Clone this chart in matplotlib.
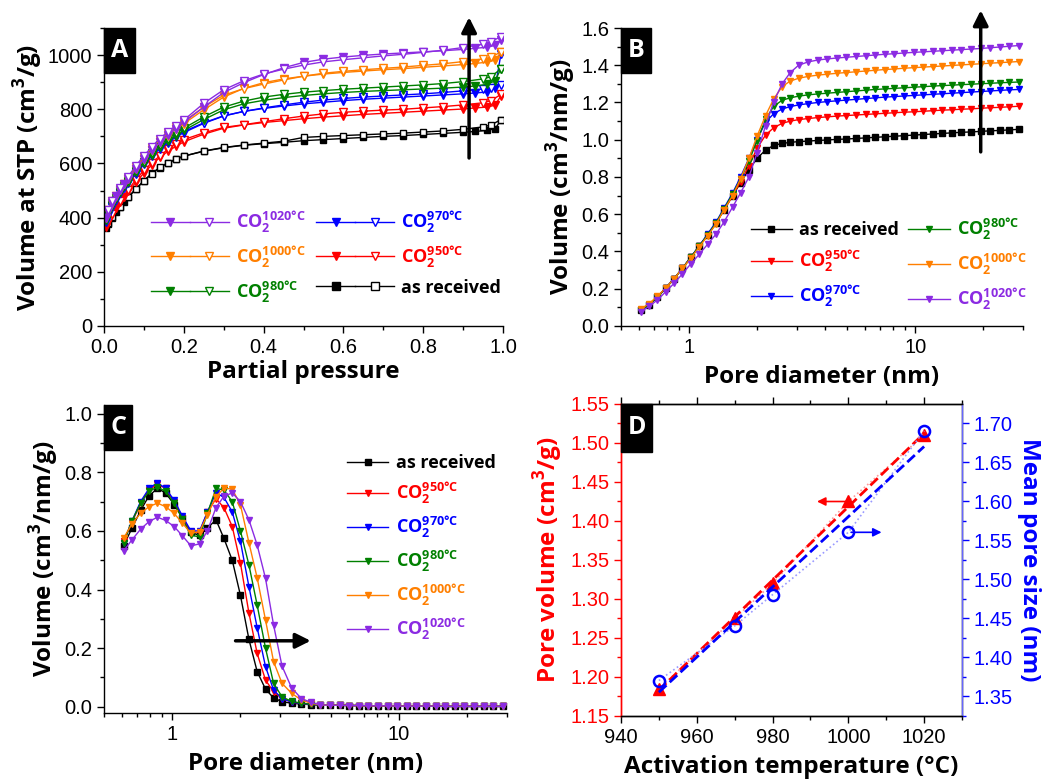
import numpy as np
import matplotlib
matplotlib.use('Agg')
import matplotlib.pyplot as plt
from matplotlib.lines import Line2D
from matplotlib.patches import Rectangle
from matplotlib.legend_handler import HandlerTuple
from matplotlib.ticker import MultipleLocator

plt.rcParams['font.family'] = ['Liberation Sans', 'DejaVu Sans']
plt.rcParams['mathtext.fontset'] = 'custom'
plt.rcParams['mathtext.rm'] = 'Open Sans'
plt.rcParams['mathtext.bf'] = 'Open Sans:bold'
plt.rcParams['axes.linewidth'] = 1.0

# colours for the samples
colors = {'ar': 'black', '950': '#FF0000', '970': '#0000FF', '980': '#008000',
          '1000': '#FF7F00', '1020': '#8B2BE2'}
names = {'ar': 'as received', '950': 'CO$_\\mathbf{2}^\\mathbf{950°C}$',
         '970': 'CO$_\\mathbf{2}^\\mathbf{970°C}$', '980': 'CO$_\\mathbf{2}^\\mathbf{980°C}$',
         '1000': 'CO$_\\mathbf{2}^\\mathbf{1000°C}$', '1020': 'CO$_\\mathbf{2}^\\mathbf{1020°C}$'}

# ---- panel A: N2 isotherms (adsorption / desorption)
p_ads = [0.005, 0.01, 0.02, 0.03, 0.04, 0.05, 0.06, 0.08, 0.1, 0.12, 0.14, 0.16, 0.18, 0.2, 0.25, 0.3,
         0.35, 0.4, 0.45, 0.5, 0.55, 0.6, 0.65, 0.7, 0.75, 0.8, 0.85, 0.9, 0.93, 0.96, 0.98, 0.995]
p_des = [0.995, 0.97, 0.95, 0.9, 0.85, 0.8, 0.75, 0.7, 0.65, 0.6, 0.55, 0.5, 0.45, 0.4, 0.35, 0.3,
         0.25, 0.2, 0.18, 0.16, 0.14, 0.12, 0.1, 0.08, 0.06, 0.04, 0.02, 0.01]

ads_ar = [360, 378, 400, 420, 440, 458, 475, 505, 537, 563, 585, 603, 616, 627, 645, 658,
          667, 673, 678, 684, 688, 692, 696, 700, 703, 707, 711, 715, 718, 722, 728, 760]
ads_950 = [365, 385, 412, 435, 458, 478, 497, 530, 565, 595, 622, 645, 663, 680, 708, 730,
           742, 751, 758, 765, 771, 776, 781, 785, 789, 793, 797, 801, 805, 808, 815, 850]
ads_970 = [385, 408, 440, 465, 490, 510, 528, 562, 597, 627, 654, 677, 697, 714, 748, 775,
           792, 803, 812, 820, 826, 832, 837, 841, 845, 849, 853, 857, 860, 864, 878, 1005]
ads_980 = [392, 416, 448, 472, 495, 515, 533, 567, 602, 633, 660, 683, 703, 722, 762, 798,
           820, 833, 843, 851, 857, 862, 866, 869, 872, 875, 878, 882, 886, 892, 905, 950]
ads_1000 = [400, 425, 455, 480, 503, 523, 542, 578, 615, 648, 678, 703, 726, 747, 798, 845,
            877, 898, 912, 922, 930, 936, 941, 946, 950, 955, 960, 965, 969, 974, 982, 1010]
ads_1020 = [400, 425, 455, 480, 503, 523, 542, 578, 615, 648, 678, 705, 728, 752, 808, 862,
            898, 928, 953, 973, 985, 993, 999, 1004, 1008, 1012, 1016, 1021, 1025, 1029, 1036, 1055]

des_ar = [762, 742, 735, 726, 720, 716, 712, 709, 706, 703, 700, 696, 682, 675, 668, 659,
          646, 627, 615, 601, 586, 562, 536, 505, 476, 441, 402, 380]
des_950 = [855, 832, 824, 816, 810, 805, 800, 797, 793, 789, 783, 775, 765, 754, 743, 733,
           713, 688, 672, 652, 628, 603, 575, 540, 502, 462, 415, 388]
des_970 = [890, 880, 875, 868, 862, 857, 853, 849, 845, 840, 834, 826, 816, 805, 792, 776,
           750, 718, 702, 682, 659, 632, 600, 566, 530, 492, 443, 410]
des_980 = [950, 920, 912, 902, 895, 890, 886, 882, 878, 874, 869, 863, 855, 845, 830, 808,
           772, 730, 712, 692, 668, 640, 607, 572, 535, 497, 450, 420]
des_1000 = [1012, 992, 986, 976, 968, 962, 956, 951, 946, 940, 933, 922, 908, 893, 876, 852,
            808, 755, 735, 713, 688, 658, 624, 588, 548, 506, 460, 428]
des_1020 = [1068, 1050, 1040, 1028, 1018, 1010, 1003, 997, 990, 983, 975, 963, 948, 930, 905, 872,
            822, 760, 740, 717, 692, 662, 628, 592, 550, 508, 462, 430]

# ---- panels B, C: pore diameter grid (nm)
diam = [0.61, 0.665, 0.725, 0.79, 0.86, 0.935, 1.02, 1.11, 1.21, 1.32, 1.43, 1.56, 1.69, 1.84, 2.0,
        2.18, 2.37, 2.58, 2.8, 3.05, 3.36, 3.71, 4.09, 4.51, 4.97, 5.48, 6.04, 6.66, 7.34, 8.1,
        8.93, 9.84, 10.85, 11.96, 13.19, 14.54, 16.03, 17.67, 19.48, 21.48, 23.68, 26.1, 28.8]

cum_ar = [0.085, 0.115, 0.155, 0.205, 0.255, 0.31, 0.37, 0.43, 0.49, 0.555, 0.625, 0.70, 0.77, 0.84, 0.90,
          0.945, 0.97, 0.98, 0.986, 0.99, 0.993, 0.996, 0.999, 1.002, 1.004, 1.007, 1.01, 1.013, 1.016, 1.019,
          1.022, 1.025, 1.028, 1.031, 1.034, 1.037, 1.04, 1.042, 1.045, 1.048, 1.05, 1.053, 1.056]
cum_950 = [0.085, 0.115, 0.155, 0.205, 0.255, 0.31, 0.37, 0.43, 0.49, 0.555, 0.625, 0.70, 0.775, 0.86, 0.955,
           1.025, 1.065, 1.088, 1.1, 1.108, 1.114, 1.119, 1.123, 1.127, 1.13, 1.133, 1.136, 1.139, 1.142, 1.145,
           1.148, 1.15, 1.153, 1.156, 1.159, 1.161, 1.164, 1.166, 1.169, 1.172, 1.174, 1.177, 1.18]
cum_970 = [0.085, 0.115, 0.155, 0.205, 0.255, 0.31, 0.37, 0.43, 0.495, 0.56, 0.635, 0.715, 0.80, 0.90, 1.0,
           1.095, 1.14, 1.165, 1.178, 1.187, 1.194, 1.2, 1.205, 1.209, 1.213, 1.217, 1.221, 1.225, 1.229, 1.232,
           1.235, 1.238, 1.241, 1.244, 1.247, 1.25, 1.253, 1.256, 1.259, 1.262, 1.265, 1.268, 1.27]
cum_980 = [0.085, 0.115, 0.155, 0.205, 0.255, 0.31, 0.37, 0.43, 0.49, 0.555, 0.63, 0.71, 0.79, 0.885, 0.995,
           1.11, 1.18, 1.212, 1.225, 1.234, 1.241, 1.246, 1.25, 1.254, 1.258, 1.262, 1.266, 1.27, 1.273, 1.276,
           1.279, 1.282, 1.285, 1.288, 1.291, 1.293, 1.296, 1.298, 1.301, 1.303, 1.306, 1.308, 1.31]
cum_1000 = [0.09, 0.12, 0.16, 0.205, 0.255, 0.31, 0.365, 0.425, 0.485, 0.55, 0.625, 0.70, 0.79, 0.90, 1.02,
            1.13, 1.22, 1.285, 1.315, 1.33, 1.34, 1.347, 1.352, 1.357, 1.361, 1.365, 1.369, 1.373, 1.377, 1.38,
            1.384, 1.387, 1.39, 1.393, 1.396, 1.399, 1.402, 1.405, 1.408, 1.411, 1.414, 1.417, 1.42]
cum_1020 = [0.075, 0.105, 0.14, 0.185, 0.23, 0.28, 0.335, 0.385, 0.44, 0.495, 0.56, 0.64, 0.715, 0.80, 0.93,
            1.075, 1.205, 1.30, 1.36, 1.40, 1.418, 1.428, 1.434, 1.439, 1.443, 1.447, 1.451, 1.455, 1.459, 1.462,
            1.466, 1.469, 1.472, 1.475, 1.478, 1.481, 1.484, 1.487, 1.49, 1.494, 1.498, 1.502, 1.506]

# differential PSD, first 23 points per sample, then the common near-zero tail (4.5 - 28.8 nm)
psd_ar = [0.55, 0.61, 0.67, 0.72, 0.745, 0.73, 0.69, 0.645, 0.595, 0.585, 0.61, 0.638, 0.575, 0.50, 0.38,
          0.23, 0.12, 0.06, 0.03, 0.017, 0.012, 0.009, 0.007]
psd_950 = [0.565, 0.63, 0.695, 0.74, 0.76, 0.745, 0.70, 0.645, 0.595, 0.595, 0.665, 0.71, 0.68, 0.615, 0.49,
           0.32, 0.182, 0.091, 0.051, 0.028, 0.016, 0.011, 0.008]
psd_970 = [0.56, 0.635, 0.70, 0.745, 0.765, 0.745, 0.705, 0.65, 0.60, 0.60, 0.665, 0.73, 0.715, 0.665, 0.564,
           0.41, 0.27, 0.137, 0.057, 0.028, 0.016, 0.011, 0.008]
psd_980 = [0.56, 0.635, 0.695, 0.735, 0.75, 0.735, 0.695, 0.64, 0.585, 0.58, 0.66, 0.745, 0.74, 0.70, 0.60,
           0.484, 0.347, 0.20, 0.08, 0.034, 0.018, 0.012, 0.008]
psd_1000 = [0.575, 0.625, 0.66, 0.683, 0.695, 0.683, 0.66, 0.626, 0.592, 0.598, 0.655, 0.717, 0.746, 0.743, 0.689,
            0.56, 0.44, 0.296, 0.154, 0.08, 0.046, 0.023, 0.012]
psd_1020 = [0.532, 0.57, 0.606, 0.632, 0.647, 0.636, 0.615, 0.583, 0.549, 0.556, 0.60, 0.68, 0.718, 0.73, 0.70,
            0.638, 0.552, 0.438, 0.279, 0.139, 0.065, 0.028, 0.015]
psd_tail = [0.006, 0.005, 0.005, 0.004, 0.004, 0.003, 0.003, 0.003, 0.002, 0.002,
            0.002, 0.002, 0.002, 0.001, 0.001, 0.001, 0.001, 0.001, 0.001, 0.001]

# ---- panel D
temps = [950, 970, 980, 1000, 1020]
pore_vol = [1.185, 1.275, 1.32, 1.425, 1.51]
mean_size = [1.37, 1.44, 1.48, 1.56, 1.69]

keys = ['ar', '950', '970', '980', '1000', '1020']
ads = dict(zip(keys, [ads_ar, ads_950, ads_970, ads_980, ads_1000, ads_1020]))
des = dict(zip(keys, [des_ar, des_950, des_970, des_980, des_1000, des_1020]))
cum = dict(zip(keys, [cum_ar, cum_950, cum_970, cum_980, cum_1000, cum_1020]))
psd = dict(zip(keys, [psd_ar, psd_950, psd_970, psd_980, psd_1000, psd_1020]))

W, H = 1051, 782
fig = plt.figure(figsize=(W / 100, H / 100), dpi=100)


def px_axes(l, t, r, b):
    return fig.add_axes([l / W, 1 - b / H, (r - l) / W, (b - t) / H])


def tag(ax, s, w=30, h=45):
    pos = ax.get_position()
    fig.patches.append(Rectangle((pos.x0, pos.y1 - h / H), w / W, h / H, transform=fig.transFigure,
                                 fc='black', ec='black', zorder=5))
    fig.text(pos.x0 + w / 2 / W, pos.y1 - h / 2 / H, s, color='white', fontsize=18, fontweight='bold',
             family='Open Sans', ha='center', va='center', zorder=6)


lab = dict(family=['Open Sans', 'DejaVu Sans'], fontweight='bold', fontsize=17.5)
legprop = dict(family='Open Sans', weight='bold', size=13)


def style(ax):
    ax.tick_params(which='major', direction='out', length=5, width=1, labelsize=14.5)
    ax.tick_params(which='minor', direction='out', length=3, width=1)


def marker_of(k):
    return 's' if k == 'ar' else 'v'


# ================= A
axA = px_axes(104, 28, 503, 326)
for k in keys:
    m = marker_of(k)
    ms = 4.5 if k == 'ar' else 5.5
    axA.plot(p_ads, ads[k], marker=m, color=colors[k], ms=ms, lw=1)
    axA.plot(p_des, des[k], marker=m, color=colors[k], mfc='white', ms=ms, lw=1)
axA.set_xlim(0, 1.0)
axA.set_ylim(0, 1100)
axA.xaxis.set_major_locator(MultipleLocator(0.2))
axA.xaxis.set_minor_locator(MultipleLocator(0.1))
axA.yaxis.set_major_locator(MultipleLocator(200))
axA.yaxis.set_minor_locator(MultipleLocator(100))
axA.set_yticks([0, 200, 400, 600, 800, 1000])
axA.spines['top'].set_visible(False)
axA.spines['right'].set_visible(False)
style(axA)
axA.set_xlabel('Partial pressure', labelpad=2, **lab)
axA.set_ylabel('Volume at STP (cm$^\\mathbf{3}$/g)', labelpad=2, **lab)
order_a = ['1020', '1000', '980', '970', '950', 'ar']
handles_a = [(Line2D([], [], color=colors[k], marker=marker_of(k), ms=6, lw=1),
              Line2D([], [], color=colors[k], marker=marker_of(k), mfc='white', ms=6, lw=1)) for k in order_a]
legA = axA.legend(handles_a, [names[k] for k in order_a], handler_map={tuple: HandlerTuple(ndivide=None, pad=0)},
                  ncol=2, loc='center left', bbox_to_anchor=(0.095, 0.232), frameon=False, borderpad=0,
                  handlelength=4.3, columnspacing=0.6, labelspacing=0.5, handletextpad=0.4, prop=legprop)
for t, k in zip(legA.get_texts(), order_a):
    t.set_color(colors[k])
axA.annotate('', xy=(0.915, 1150), xytext=(0.915, 610), annotation_clip=False,
             arrowprops=dict(arrowstyle='-|>,head_width=0.45,head_length=0.9', color='black', lw=2.5))
tag(axA, 'A', 31, 45)

# ================= B
axB = px_axes(621, 28, 1023, 326)
for k in keys:
    axB.plot(diam, cum[k], marker=marker_of(k), color=colors[k], ms=4.5 if k == 'ar' else 5, lw=1)
axB.set_xscale('log')
axB.set_xlim(0.5, 30)
axB.set_ylim(0, 1.6)
axB.yaxis.set_major_locator(MultipleLocator(0.2))
axB.yaxis.set_minor_locator(MultipleLocator(0.1))
axB.set_xticks([1, 10])
axB.set_xticklabels(['1', '10'])
axB.spines['top'].set_visible(False)
axB.spines['right'].set_visible(False)
style(axB)
axB.set_xlabel('Pore diameter (nm)', labelpad=6, **lab)
axB.set_ylabel('Volume (cm$^\\mathbf{3}$/nm/g)', labelpad=2, **lab)
order_b = ['ar', '950', '970', '980', '1000', '1020']
handles_b = [Line2D([], [], color=colors[k], marker=marker_of(k), ms=5, lw=1) for k in order_b]
legB = axB.legend(handles_b, [names[k] for k in order_b], ncol=2, loc='center left',
                  bbox_to_anchor=(0.30, 0.207), frameon=False, borderpad=0, numpoints=1,
                  handlelength=2.3, columnspacing=0.5, labelspacing=0.5, handletextpad=0.4, prop=legprop)
for t, k in zip(legB.get_texts(), order_b):
    t.set_color(colors[k])
axB.annotate('', xy=(19.5, 1.71), xytext=(19.5, 0.92), annotation_clip=False,
             arrowprops=dict(arrowstyle='-|>,head_width=0.45,head_length=0.9', color='black', lw=2.5))
tag(axB, 'B', 30, 45)

# ================= C
axC = px_axes(104, 405, 507, 713)
for k in keys:
    axC.plot(diam, psd[k] + psd_tail, marker=marker_of(k), color=colors[k], ms=4.5 if k == 'ar' else 5, lw=1)
axC.set_xscale('log')
axC.set_xlim(0.5, 30)
axC.set_ylim(-0.0215, 1.03)
axC.set_yticks([0.0, 0.2, 0.4, 0.6, 0.8, 1.0])
axC.yaxis.set_minor_locator(MultipleLocator(0.1))
axC.set_xticks([1, 10])
axC.set_xticklabels(['1', '10'])
axC.spines['top'].set_visible(False)
axC.spines['right'].set_visible(False)
style(axC)
axC.set_xlabel('Pore diameter (nm)', labelpad=6, **lab)
axC.set_ylabel('Volume (cm$^\\mathbf{3}$/nm/g)', labelpad=2, **lab)
handles_c = [Line2D([], [], color=colors[k], marker=marker_of(k), ms=5, lw=1) for k in order_b]
legC = axC.legend(handles_c, [names[k] for k in order_b], ncol=1, loc='center left',
                  bbox_to_anchor=(0.58, 0.535), frameon=False, borderpad=0, numpoints=1,
                  handlelength=2.3, labelspacing=0.45, handletextpad=0.4, prop=legprop)
for t, k in zip(legC.get_texts(), order_b):
    t.set_color(colors[k])
axC.annotate('', xy=(4.2, 0.225), xytext=(1.85, 0.225),
             arrowprops=dict(arrowstyle='-|>,head_width=0.45,head_length=0.9', color='black', lw=2.5))
tag(axC, 'C', 28, 45)

# ================= D
axD = px_axes(621, 404, 962, 716)
axR = axD.twinx()
red, blue = '#FF0000', '#0000FF'
fit_v = np.polyfit(temps, pore_vol, 1)
fit_s = np.polyfit(temps, mean_size, 1)
tfit = np.array([temps[0], temps[-1]])
axD.plot(temps, pore_vol, ':', color='#FF9999', lw=1.2)
axD.plot(tfit, np.polyval(fit_v, tfit), '--', color=red, lw=2)
axD.plot(temps, pore_vol, '^', color=red, ms=9, ls='none')
axR.plot(temps, mean_size, ':', color='#9999FF', lw=1.2)
axR.plot(tfit, np.polyval(fit_s, tfit), '--', color=blue, lw=2)
axR.plot(temps, mean_size, 'o', color=blue, mfc='none', mew=1.8, ms=8, ls='none')
axD.set_xlim(940, 1030)
axD.set_ylim(1.15, 1.55)
axR.set_ylim(1.3245, 1.7245)
axD.xaxis.set_major_locator(MultipleLocator(20))
axD.xaxis.set_minor_locator(MultipleLocator(10))
axD.yaxis.set_major_locator(MultipleLocator(0.05))
axD.yaxis.set_minor_locator(MultipleLocator(0.025))
axR.yaxis.set_major_locator(MultipleLocator(0.05))
axR.yaxis.set_minor_locator(MultipleLocator(0.025))
axD.set_xticks([940, 960, 980, 1000, 1020])
style(axD)
style(axR)
axD.tick_params(axis='x', which='both', top=True, labeltop=False)
axD.tick_params(axis='y', which='both', colors=red)
axR.tick_params(axis='y', which='both', colors=blue)
axD.spines['left'].set_color(red)
axR.spines['left'].set_color(red)
axR.spines['right'].set_color('#6666FF')
axD.yaxis.set_major_formatter(plt.FormatStrFormatter('%.2f'))
axR.yaxis.set_major_formatter(plt.FormatStrFormatter('%.2f'))
axD.set_xlabel('Activation temperature (°C)', labelpad=6, **lab)
axD.set_ylabel('Pore volume (cm$^\\mathbf{3}$/g)', color=red, labelpad=4, **lab)
axR.set_ylabel('Mean pore size (nm)', color=blue, rotation=270, labelpad=20, **lab)
axD.annotate('', xy=(991, 1.425), xytext=(1000, 1.425),
             arrowprops=dict(arrowstyle='-|>,head_width=0.25,head_length=0.5', color=red, lw=1.2))
axR.annotate('', xy=(1009.5, 1.56), xytext=(1000, 1.56),
             arrowprops=dict(arrowstyle='-|>,head_width=0.25,head_length=0.5', color=blue, lw=1.2))
tag(axD, 'D', 31, 48)

fig.savefig('out.png', dpi=100)
